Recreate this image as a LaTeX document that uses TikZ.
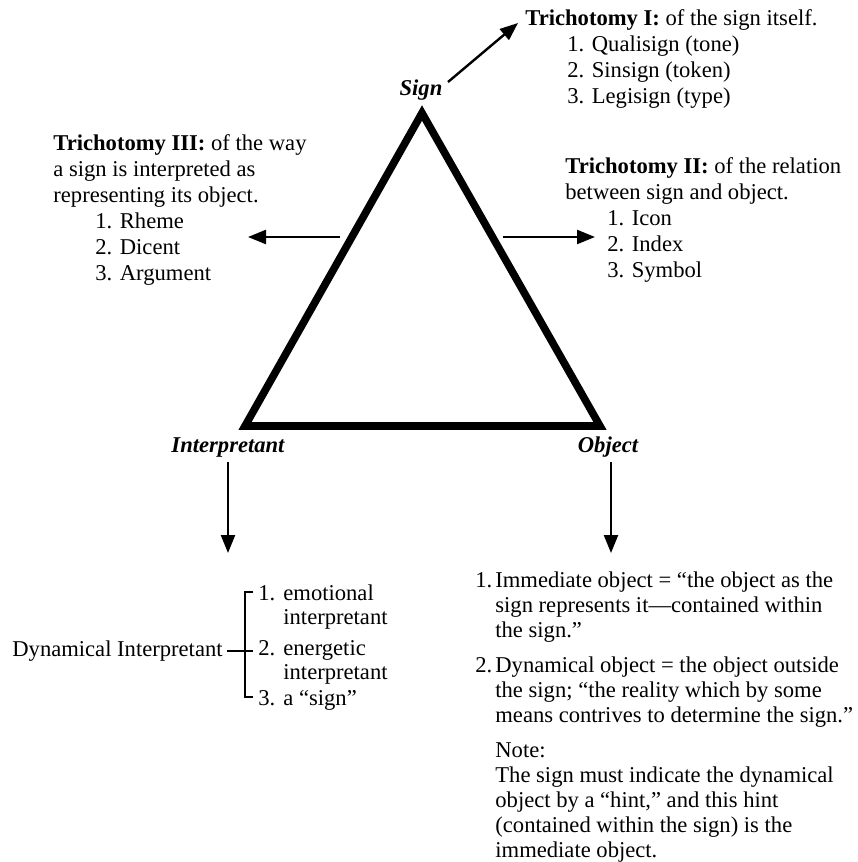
\documentclass[tikz,border=0pt]{standalone}
\usepackage{fontspec}
\setmainfont{Liberation Serif}
\usetikzlibrary{arrows.meta}

\tikzset{
  txt/.style={font=\fontsize{11.3}{13}\selectfont, align=left, anchor=base west, inner sep=0pt},
  vlbl/.style={font=\fontsize{11.3}{13}\selectfont\bfseries\itshape, anchor=base, inner sep=0pt},
  arr/.style={->, line width=1.2pt},
  brk/.style={line width=0.6pt},
}
\newcommand{\itm}[1]{\makebox[12.5pt][l]{#1}}
\newcommand{\onum}[1]{\makebox[10pt][l]{#1}}

\begin{document}
\begin{tikzpicture}[x=0.5pt, y=-0.5pt, >={Triangle[length=9pt,width=7pt]}]
\useasboundingbox (0,0) rectangle (857,862);

\coordinate (S) at (422,113);
\coordinate (I) at (245,426);
\coordinate (O) at (600,426);

\draw[line width=3.8pt, line join=miter] (S)--(O)--(I)--cycle;

\node[vlbl] (sign) at (421,95) {Sign};
\node[vlbl] (interp) at (228,452) {Interpretant};
\node[vlbl] (object) at (608,452) {Object};

% trichotomies (placed by last baseline)
\node[txt] (tri1) at (525,103) {\textbf{Trichotomy I:} of the sign itself.\\
\hspace*{21pt}1. Qualisign (tone)\\
\hspace*{21pt}2. Sinsign (token)\\
\hspace*{21pt}3. Legisign (type)};

\node[txt] (tri2) at (565,277) {\textbf{Trichotomy II:} of the relation\\
between sign and object.\\
\hspace*{21pt}1. Icon\\
\hspace*{21pt}2. Index\\
\hspace*{21pt}3. Symbol};

\node[txt] (tri3) at (53,280) {\textbf{Trichotomy III:} of the way\\
a sign is interpreted as\\
representing its object.\\
\hspace*{21pt}1. Rheme\\
\hspace*{21pt}2. Dicent\\
\hspace*{21pt}3. Argument};

\coordinate (a1s) at (448,82);
\coordinate (a1e) at (518,23);
\coordinate (a2s) at (503,237);
\coordinate (a2e) at (595,237);
\coordinate (a3s) at (340,237);
\coordinate (a3e) at (248,237);
\coordinate (a4s) at (228,462);
\coordinate (a4e) at (228,553);
\coordinate (a5s) at (611,462);
\coordinate (a5e) at (611,553);

\draw[arr] (a1s) -- (a1e);
\draw[arr] (a2s) -- (a2e);
\draw[arr] (a3s) -- (a3e);
\draw[arr] (a4s) -- (a4e);
\draw[arr] (a5s) -- (a5e);

% dynamical interpretant
\node[txt, anchor=base east] (dynint) at (223,656) {Dynamical Interpretant};
\node[txt, font=\fontsize{11.3}{12}\selectfont] (dynitems) at (258,705) {\itm{1.}emotional\\
\hspace*{12.5pt}interpretant\\[3.5pt]
\itm{2.}energetic\\
\hspace*{12.5pt}interpretant\\[1pt]
\itm{3.}a “sign”};

\coordinate (bt0) at (253,592);
\coordinate (bt1) at (245,592);
\coordinate (bb1) at (245,697);
\coordinate (bb0) at (253,697);
\coordinate (bm0) at (227,651);
\coordinate (bm1) at (253,651);
\draw[brk] (bt0) -- (bt1) -- (bb1) -- (bb0);
\draw[brk] (bm0) -- (bm1);

% objects
\node[txt, font=\fontsize{11.3}{12.5}\selectfont] (objitems) at (475,857) {\onum{1.}Immediate object = “the object as the\\
\hspace*{10pt}sign represents it—contained within\\
\hspace*{10pt}the sign.”\\[5pt]
\onum{2.}Dynamical object = the object outside\\
\hspace*{10pt}the sign; “the reality which by some\\
\hspace*{10pt}means contrives to determine the sign.”\\[5pt]
\hspace*{10pt}Note:\\
\hspace*{10pt}The sign must indicate the dynamical\\
\hspace*{10pt}object by a “hint,” and this hint\\
\hspace*{10pt}(contained within the sign) is the\\
\hspace*{10pt}immediate object.};
\end{tikzpicture}
\end{document}
